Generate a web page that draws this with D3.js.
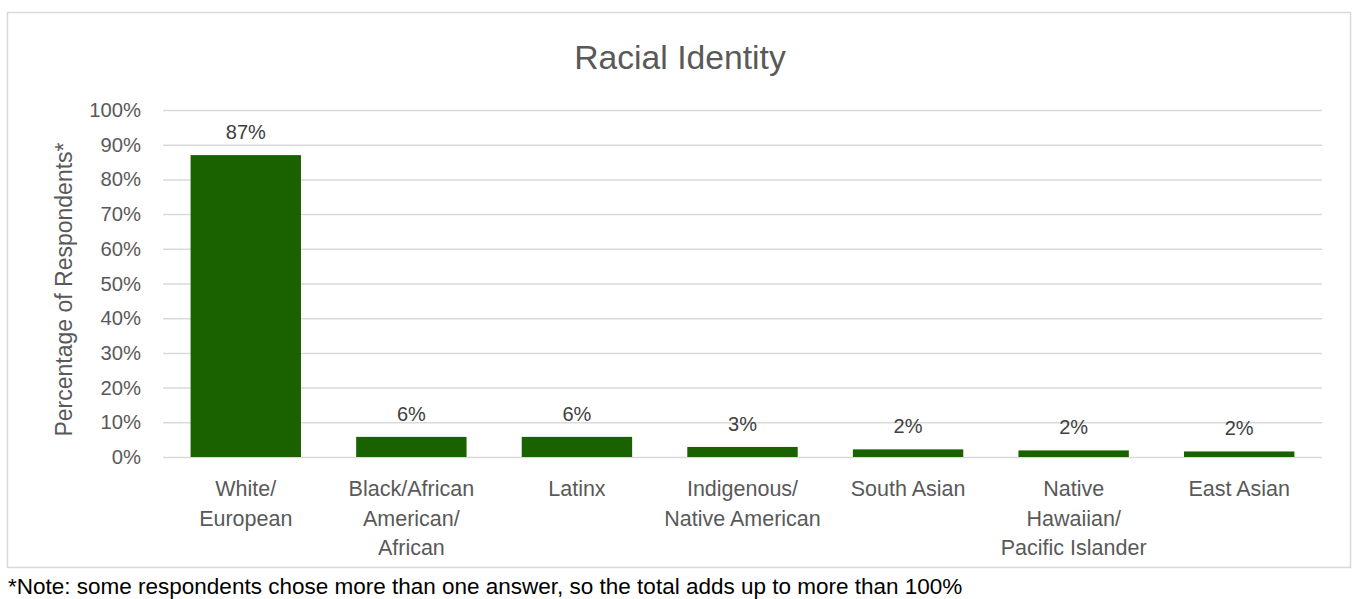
<!DOCTYPE html>
<html>
<head>
<meta charset="utf-8">
<script src="https://cdn.jsdelivr.net/npm/d3@7"></script>
<style>
  html, body { margin: 0; padding: 0; background: #ffffff; }
  svg { display: block; }
  text { font-family: "Liberation Sans", Arial, sans-serif; }
</style>
</head>
<body>
<svg id="chart" width="1354" height="599"></svg>
<script>
// Share of respondents by racial identity (multiple answers allowed)
const categories = [
  ["White/", "European"],
  ["Black/African", "American/", "African"],
  ["Latinx"],
  ["Indigenous/", "Native American"],
  ["South Asian"],
  ["Native", "Hawaiian/", "Pacific Islander"],
  ["East Asian"]
];
const shares = [0.87, 0.058, 0.058, 0.029, 0.022, 0.019, 0.016];
const yTicks = [0, 0.1, 0.2, 0.3, 0.4, 0.5, 0.6, 0.7, 0.8, 0.9, 1.0];

const title = "Racial Identity";
const yTitle = "Percentage of Respondents*";
const note = "*Note: some respondents chose more than one answer, so the total adds up to more than 100%";

const svg = d3.select("#chart");
const grey = "#d9d9d9";
const textGrey = "#595959";
const barFill = "#1a6100";

// outer chart frame
svg.append("rect")
  .attr("x", 7.5).attr("y", 12.5)
  .attr("width", 1343).attr("height", 555)
  .attr("fill", "#fff")
  .attr("stroke", grey).attr("stroke-width", 1.5);

const plot = { left: 163, right: 1322, top: 110, bottom: 457 };
const keys = categories.map((c, i) => i);

const x = d3.scaleBand()
  .domain(keys)
  .range([plot.left, plot.right])
  .paddingInner(1 / 3)
  .paddingOuter(1 / 6);

const y = d3.scaleLinear()
  .domain([0, 1])
  .range([plot.bottom, plot.top]);

const pct = d3.format(".0%");

// gridlines + tick labels
const yAxis = d3.axisLeft(y)
  .tickValues(yTicks)
  .tickFormat(pct)
  .tickSize(-(plot.right - plot.left))
  .tickPadding(22);

const gy = svg.append("g")
  .attr("transform", `translate(${plot.left},0)`)
  .call(yAxis);
gy.select(".domain").remove();
gy.selectAll(".tick line").attr("stroke", grey).attr("stroke-width", 1.5);
gy.selectAll(".tick text")
  .attr("fill", textGrey)
  .style("font-size", "20.3px");

// bars
svg.append("g").selectAll("rect")
  .data(shares)
  .join("rect")
  .attr("x", (d, i) => x(i))
  .attr("y", d => y(d))
  .attr("width", x.bandwidth())
  .attr("height", d => y(0) - y(d))
  .attr("fill", barFill);

// value labels
svg.append("g").selectAll("text")
  .data(shares)
  .join("text")
  .attr("x", (d, i) => x(i) + x.bandwidth() / 2)
  .attr("y", d => y(d) - 16)
  .attr("text-anchor", "middle")
  .attr("fill", "#404040")
  .style("font-size", "20px")
  .text(d => pct(d));

// category labels (wrapped)
const xAxis = d3.axisBottom(x).tickSize(0).tickFormat("");
const gx = svg.append("g")
  .attr("transform", `translate(0,${plot.bottom})`)
  .call(xAxis);
gx.select(".domain").remove();
gx.selectAll(".tick").each(function (i) {
  const t = d3.select(this).append("text")
    .attr("text-anchor", "middle")
    .attr("fill", textGrey)
    .style("font-size", "21.5px");
  categories[i].forEach((line, k) => {
    t.append("tspan")
      .attr("x", 0)
      .attr("y", 39 + k * 29.5)
      .text(line);
  });
});

// y-axis title
svg.append("text")
  .attr("transform", `translate(72,${(plot.top + plot.bottom) / 2 + 6}) rotate(-90)`)
  .attr("text-anchor", "middle")
  .attr("fill", textGrey)
  .style("font-size", "23px")
  .text(yTitle);

// chart title
svg.append("text")
  .attr("x", 680)
  .attr("y", 69)
  .attr("text-anchor", "middle")
  .attr("fill", textGrey)
  .style("font-size", "33.7px")
  .text(title);

// footnote
svg.append("text")
  .attr("x", 8)
  .attr("y", 594)
  .attr("fill", "#000")
  .style("font-size", "22.5px")
  .text(note);
</script>
</body>
</html>
